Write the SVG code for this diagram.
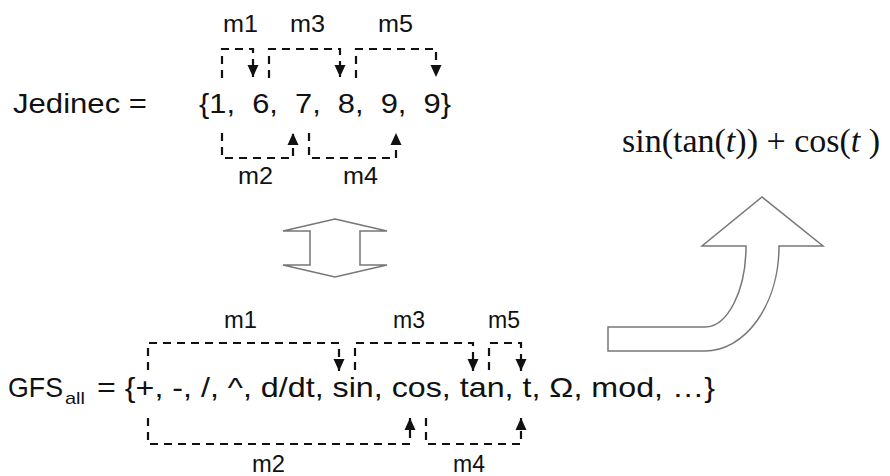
<svg xmlns="http://www.w3.org/2000/svg" width="890" height="476" viewBox="0 0 890 476">
<style>
  .t { font-family: "Liberation Sans", Arial, sans-serif; fill: #111; }
  .lbl { font-family: "Liberation Sans", Arial, sans-serif; font-size: 24px; fill: #111; }
  .eq { font-family: "Liberation Serif", "Times New Roman", serif; font-size: 34px; fill: #111; }
  .dash { fill: none; stroke: #111; stroke-width: 2.2; stroke-dasharray: 8 6; }
  .big { fill: #fff; stroke: #777; stroke-width: 1.5; stroke-linejoin: miter; }
</style>
<defs>
  <marker id="ah" markerUnits="userSpaceOnUse" markerWidth="12" markerHeight="12" viewBox="0 0 12 12" refX="12" refY="6" orient="auto">
    <path d="M0,0.5 L12,6 L0,11.5 z" fill="#111"/>
  </marker>
</defs>
<rect width="890" height="476" fill="#fff"/>

<g id="jedinec">
  <text class="t" x="13" y="113" font-size="28" textLength="134" lengthAdjust="spacingAndGlyphs">Jedinec =</text>
  <text class="t" x="199" y="113" font-size="28" textLength="252" lengthAdjust="spacingAndGlyphs" xml:space="preserve">{1,  6,  7,  8,  9,  9}</text>
</g>

<g id="jedinec-labels">
  <text class="lbl" x="223" y="32" textLength="35" lengthAdjust="spacingAndGlyphs">m1</text>
  <text class="lbl" x="290" y="32" textLength="35" lengthAdjust="spacingAndGlyphs">m3</text>
  <text class="lbl" x="378" y="32" textLength="35" lengthAdjust="spacingAndGlyphs">m5</text>
  <text class="lbl" x="238" y="184" textLength="35" lengthAdjust="spacingAndGlyphs">m2</text>
  <text class="lbl" x="343" y="184" textLength="35" lengthAdjust="spacingAndGlyphs">m4</text>
</g>

<g id="equation">
  <text class="eq" x="622" y="152" xml:space="preserve">sin(tan(<tspan font-style="italic">t</tspan>)) + cos(<tspan font-style="italic">t</tspan> )</text>
</g>

<g id="double-arrow">
  <polygon class="big" points="335,219 387,231 360,231 360,265 387,265 335,277 283,265 310,265 310,231 283,231"/>
</g>

<g id="curved-arrow">
  <path class="big" d="M608,327 H705 A41,81 0 0 0 746,246 H702 L762,197 L823,246 H779 A74,105 0 0 1 705,351 H608 Z"/>
</g>

<g id="gfs">
  <text class="t" x="8" y="397" font-size="28" textLength="55" lengthAdjust="spacingAndGlyphs">GFS</text>
  <text class="t" x="65" y="404" font-size="17" textLength="20" lengthAdjust="spacingAndGlyphs">all</text>
  <text class="t" x="97" y="397" font-size="28" textLength="618" lengthAdjust="spacingAndGlyphs">= {+, -, /, ^, d/dt, sin, cos, tan, t, Ω, mod, …}</text>
</g>

<g id="gfs-labels">
  <text class="lbl" x="224" y="328" textLength="33" lengthAdjust="spacingAndGlyphs">m1</text>
  <text class="lbl" x="393" y="328" textLength="32" lengthAdjust="spacingAndGlyphs">m3</text>
  <text class="lbl" x="488" y="328" textLength="32" lengthAdjust="spacingAndGlyphs">m5</text>
  <text class="lbl" x="252" y="472" textLength="33" lengthAdjust="spacingAndGlyphs">m2</text>
  <text class="lbl" x="453" y="472" textLength="32" lengthAdjust="spacingAndGlyphs">m4</text>
</g>

<g id="connectors">
  <path class="dash" marker-end="url(#ah)" d="M222,78 V49 H253 V77"/>
  <path class="dash" marker-end="url(#ah)" d="M269,78 V49 H340 V77"/>
  <path class="dash" marker-end="url(#ah)" d="M356,78 V49 H436 V77"/>
  <path class="dash" marker-end="url(#ah)" d="M222,133 V158 H293 V133"/>
  <path class="dash" marker-end="url(#ah)" d="M309,133 V158 H396 V133"/>

  <path class="dash" marker-end="url(#ah)" d="M148,370 V343 H339 V371"/>
  <path class="dash" marker-end="url(#ah)" d="M355,370 V343 H473 V371"/>
  <path class="dash" marker-end="url(#ah)" d="M489,370 V343 H521 V371"/>
  <path class="dash" marker-end="url(#ah)" d="M148,418 V444 H410 V418"/>
  <path class="dash" marker-end="url(#ah)" d="M426,418 V444 H521 V418"/>
</g>
</svg>
